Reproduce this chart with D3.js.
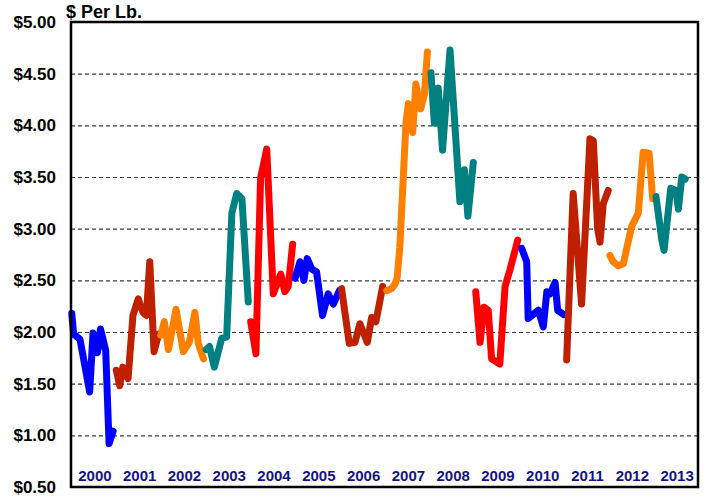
<!DOCTYPE html>
<html>
<head>
<meta charset="utf-8">
<script src="https://cdn.jsdelivr.net/npm/d3@7"></script>
<style>
  body { margin: 0; background: #fff; }
  svg { display: block; font-family: Arial, "Liberation Sans", sans-serif; }
</style>
</head>
<body>
<script>
/* ---- data: [month of year, $ per lb] ---- */
var years = [2000, 2001, 2002, 2003, 2004, 2005, 2006, 2007, 2008, 2009, 2010, 2011, 2012, 2013];
var yTicks = [0.5, 1, 1.5, 2, 2.5, 3, 3.5, 4, 4.5, 5];

var p2000 = [[0.2, 2.18], [0.7, 1.98], [2.4, 1.93], [5.0, 1.42], [5.9, 1.99], [7.1, 1.80], [7.9, 2.03], [9.3, 1.82], [10.2, 0.92], [11.3, 1.04]];
var p2001 = [[0.15, 1.63], [1.05, 1.48], [1.9, 1.66], [3.3, 1.55], [4.6, 2.16], [6.0, 2.32], [7.3, 2.19], [8.2, 2.16], [9.1, 2.68], [10.25, 1.81], [11.5, 1.98]];
var p2002 = [[0.05, 1.97], [1.0, 2.10], [2.1, 1.83], [4.15, 2.22], [6.1, 1.81], [7.7, 1.90], [9.2, 2.19], [10.1, 1.89], [11.5, 1.74]];
var p2003 = [[0.2, 1.83], [1.1, 1.86], [2.4, 1.66], [4.4, 1.94], [5.7, 1.95], [7.1, 3.15], [8.4, 3.34], [9.8, 3.29], [11.5, 2.29]];
var p2004 = [[0.15, 2.10], [1.55, 1.79], [2.8, 3.49], [4.45, 3.77], [6.2, 2.37], [8.2, 2.56], [9.3, 2.39], [10.2, 2.44], [11.4, 2.85]];
var p2005 = [[0.05, 2.52], [1.35, 2.68], [2.4, 2.50], [3.3, 2.71], [4.5, 2.61], [5.8, 2.58], [7.4, 2.16], [8.9, 2.37], [10.3, 2.27], [11.9, 2.40]];
var p2006 = [[0.5, 2.42], [2.55, 1.89], [4.1, 1.90], [5.4, 2.08], [7.4, 1.90], [8.55, 2.14], [9.7, 2.10], [11.5, 2.44]];
var p2007 = [[0.6, 2.40], [1.9, 2.42], [2.9, 2.47], [3.4, 2.53], [4.1, 2.82], [5.0, 3.47], [5.75, 4.02], [6.4, 4.21], [7.55, 3.93], [8.4, 4.40], [9.7, 4.16], [10.7, 4.30], [11.5, 4.71]];
var p2008 = [[0.45, 4.51], [1.35, 4.02], [2.4, 4.36], [3.55, 3.76], [5.55, 4.73], [8.2, 3.26], [9.4, 3.57], [10.35, 3.12], [11.8, 3.64]];
var p2009 = [[0.45, 2.39], [1.6, 1.90], [2.65, 2.24], [3.8, 2.21], [4.7, 1.74], [6.9, 1.69], [8.3, 2.44], [9.6, 2.60], [11.7, 2.89]];
var p2010 = [[0.75, 2.81], [2.1, 2.68], [2.5, 2.13], [5.2, 2.21], [6.55, 2.05], [7.5, 2.39], [8.4, 2.37], [9.7, 2.48], [10.4, 2.21], [11.95, 2.17]];
var p2011 = [[0.8, 1.73], [2.55, 3.34], [4.8, 2.27], [7.05, 3.87], [7.95, 3.85], [9.1, 3.00], [9.75, 2.87], [10.6, 3.24], [11.95, 3.37]];
var p2012 = [[0.4, 2.74], [1.3, 2.68], [2.6, 2.64], [4.0, 2.66], [6.2, 3.02], [8.0, 3.15], [9.3, 3.74], [10.9, 3.73], [11.85, 3.29]];
var p2013 = [[0.75, 3.31], [2.3, 2.89], [2.9, 2.79], [4.7, 3.39], [6.1, 3.37], [6.75, 3.19], [7.65, 3.50], [8.55, 3.48]];

var prices = [p2000, p2001, p2002, p2003, p2004, p2005, p2006, p2007, p2008, p2009, p2010, p2011, p2012, p2013];

/* ---- styles ---- */
var palette = ["#0000ff", "#bf2000", "#ff8000", "#008080", "#ff0000"];

var W = 709, H = 501;
var plotL = 71, plotR = 698, plotT = 22, plotB = 487;

var svg = d3.select("body").append("svg")
	.attr("width", W)
	.attr("height", H);

var x = d3.scaleLinear().domain([2000, 2014]).range([plotL, plotR]);
var y = d3.scaleLinear().domain([0.5, 5]).range([plotB, plotT]);

// dashed gridlines (not on the frame edges)
svg.append("g")
	.attr("transform", "translate(" + plotL + ",0)")
	.call(d3.axisLeft(y)
		.tickValues(yTicks.filter(function(d) { return d > 0.5 && d < 5; }))
		.tickSize(-(plotR - plotL))
		.tickFormat(""))
	.call(function(g) {
		g.select(".domain").remove();
		g.selectAll("line")
			.attr("stroke", "#3a3a3a")
			.attr("stroke-width", 1.2)
			.attr("stroke-dasharray", "4,3");
	});

// y tick labels
svg.append("g")
	.attr("transform", "translate(" + plotL + ",0)")
	.call(d3.axisLeft(y)
		.tickValues(yTicks)
		.tickSize(0)
		.tickPadding(15)
		.tickFormat(function(d) { return "$" + d.toFixed(2); }))
	.call(function(g) {
		g.select(".domain").remove();
		g.selectAll("text")
			.attr("font-size", 17)
			.attr("font-weight", "bold")
			.attr("font-family", "Arial, 'Liberation Sans', sans-serif")
			.attr("fill", "#000");
	});

// price line, one colour per year
var line = d3.line()
	.x(function(d) { return x(d.year + d[0] / 12); })
	.y(function(d) { return y(d[1]); });

svg.append("g").selectAll("path")
	.data(prices)
	.enter()
	.append("path")
	.attr("d", function(pts, i) {
		return line(pts.map(function(p) {
			var q = [p[0], p[1]];
			q.year = years[i];
			return q;
		}));
	})
	.attr("fill", "none")
	.attr("stroke", function(d, i) { return palette[i % palette.length]; })
	.attr("stroke-width", 7)
	.attr("stroke-linejoin", "round")
	.attr("stroke-linecap", "round");

// year labels
svg.append("g").selectAll("text")
	.data(years)
	.enter()
	.append("text")
	.attr("x", function(d) { return x(d + 0.5) + 1.5; })
	.attr("y", 481)
	.attr("text-anchor", "middle")
	.attr("font-size", 15)
	.attr("font-weight", "bold")
	.attr("fill", "#14147f")
	.text(function(d) { return d; });

// frame
svg.append("rect")
	.attr("x", plotL)
	.attr("y", plotT)
	.attr("width", plotR - plotL)
	.attr("height", plotB - plotT)
	.attr("fill", "none")
	.attr("stroke", "#000")
	.attr("stroke-width", 2.5);

// unit label
svg.append("text")
	.attr("x", 66)
	.attr("y", 17.5)
	.attr("font-size", 18)
	.attr("font-weight", "bold")
	.attr("fill", "#000")
	.text("$ Per Lb.");
</script>
</body>
</html>
